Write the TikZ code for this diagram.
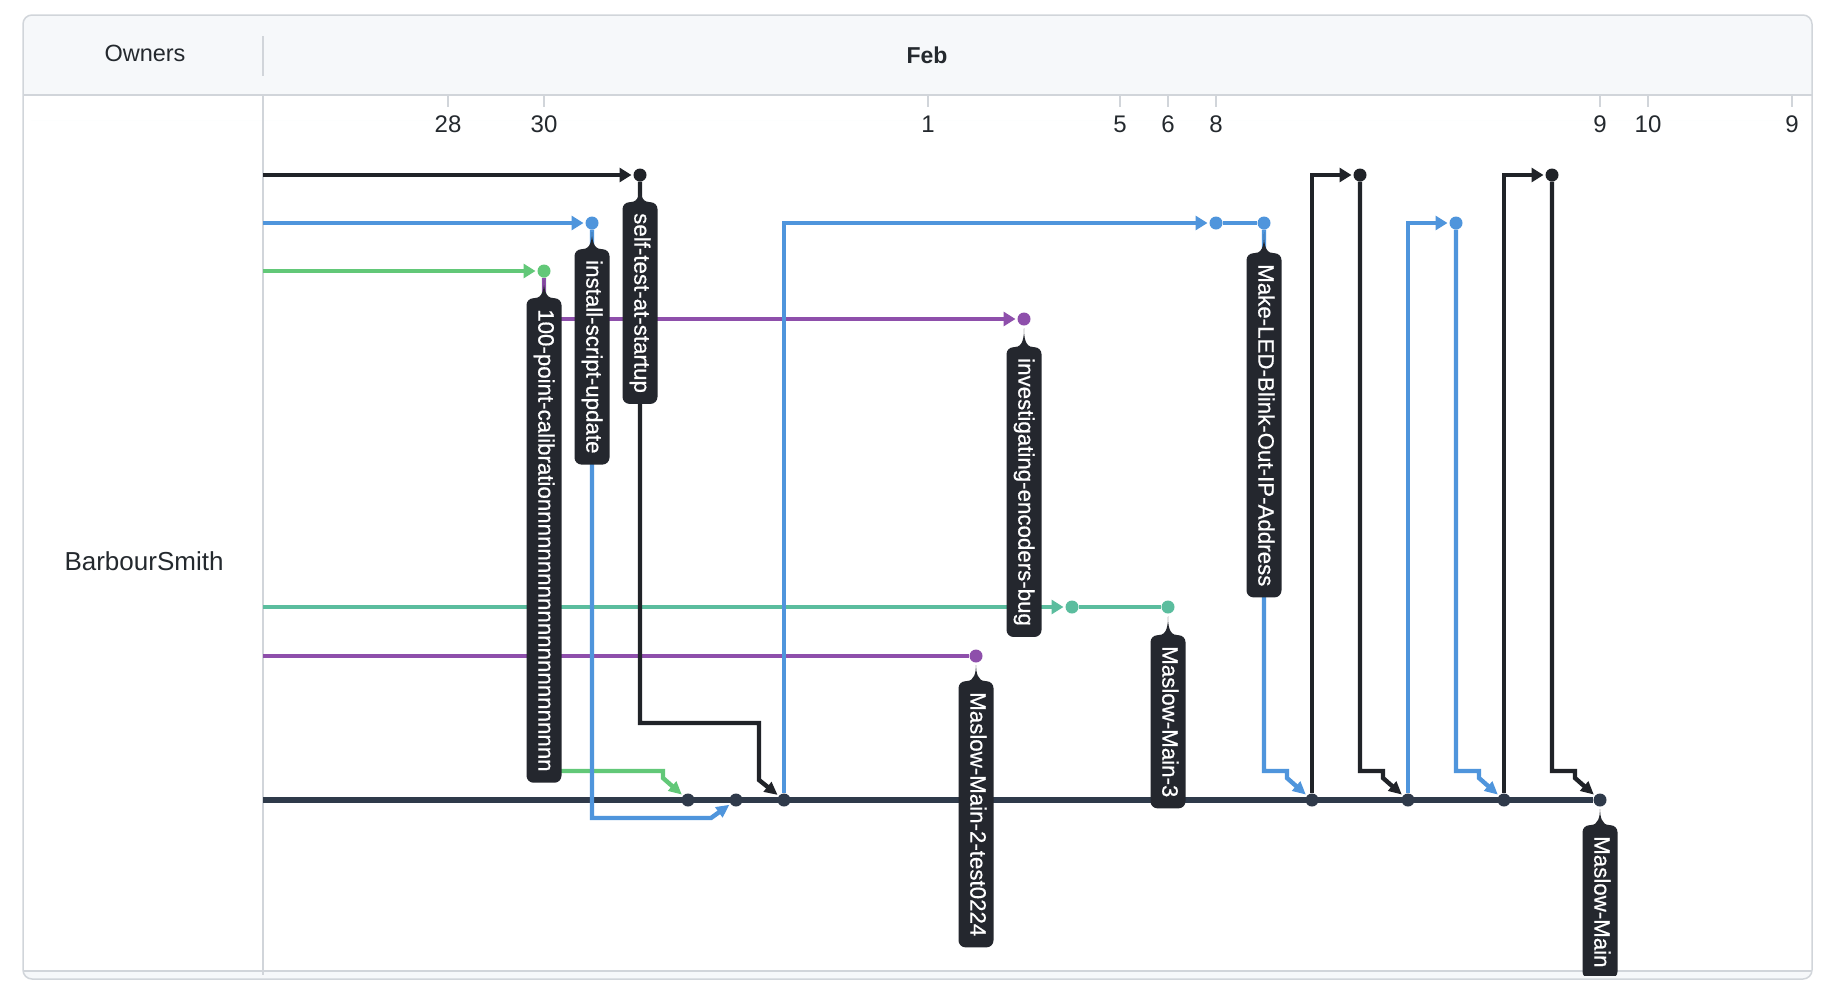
\documentclass[tikz,border=0pt]{standalone}
\usepackage{fontspec}
\setmainfont{Liberation Sans}
\newfontfamily\tagfamily{Liberation Sans}[FakeBold=0.6]
\usetikzlibrary{arrows.meta}

\definecolor{gridline}{HTML}{D1D5DA}
\definecolor{headbg}{HTML}{F6F8FA}
\definecolor{inkdark}{HTML}{24292E}
\definecolor{mainln}{HTML}{2F3A4A}
\definecolor{brblack}{HTML}{202328}
\definecolor{brblue}{HTML}{4F95DC}
\definecolor{brgreen}{HTML}{62C878}
\definecolor{brteal}{HTML}{5BBD9E}
\definecolor{brpurple}{HTML}{8E4FAB}
\definecolor{tagbg}{HTML}{24272E}

\newcommand{\lblfont}{\tagfamily\fontsize{22.3}{26}\selectfont}
\newcommand{\tagpin}[2]{\fill[tagbg] ([xshift=-9pt]#1.west) to[out=0,in=-90] ([yshift=-9pt]#2.center) to[out=-90,in=180] ([xshift=9pt]#1.west) -- cycle;}

\tikzset{
  commit/.style={circle, fill=#1, inner sep=0pt, minimum size=13pt},
  branchline/.style={draw=#1, line width=4.4pt},
  headarrow/.style={-{Triangle[length=12pt,width=14pt]}, shorten >=1.8pt},
  mergearrow/.style={-{Triangle[length=13pt,width=12pt]}, shorten >=1.5pt},
  reftag/.style={rotate=-90, anchor=west, fill=tagbg, text=white, rounded corners=7pt,
    minimum height=35pt, inner xsep=11pt, inner ysep=0pt, text height=16pt, text depth=4.7pt, font=\lblfont},
  ticklabel/.style={text=inkdark, font=\fontsize{24}{28}\selectfont},
}

\begin{document}
\begin{tikzpicture}[x=1pt,y=-1pt]
			\useasboundingbox (0,0) rectangle (1824,986);
			% frame and header
			\fill[white, rounded corners=9pt] (23,15) rectangle (1812,979);
			\fill[headbg, rounded corners=9pt] (23,15) rectangle (1812,120);
			\fill[white] (23,95) rectangle (1812,120);
			\fill[headbg, rounded corners=9pt] (23,930) rectangle (1812,979);
			\fill[white] (23,930) rectangle (1812,971);
			\draw[gridline, line width=1.5pt] (23,95) -- (1812,95);
			\draw[gridline, line width=1.5pt] (23,971) -- (1812,971);
			\draw[gridline, line width=1.5pt] (263,36) -- (263,76);
			\draw[gridline, line width=1.5pt] (263,95) -- (263,975);
			\draw[gridline, line width=1.5pt, rounded corners=9pt] (23,15) rectangle (1812,979);
			\node[text=inkdark, font=\fontsize{23.5}{28}\selectfont] (owners) at (145,53) {Owners};
			\node[text=inkdark, font=\fontsize{23}{28}\selectfont\bfseries] (month) at (927,55) {Feb};
			\node[text=inkdark, font=\fontsize{26}{30}\selectfont] (owner) at (144,561) {BarbourSmith};
			% day ticks
			\draw[gridline, line width=1.5pt] (448,96) -- (448,107);
			\draw[gridline, line width=1.5pt] (544,96) -- (544,107);
			\draw[gridline, line width=1.5pt] (928,96) -- (928,107);
			\draw[gridline, line width=1.5pt] (1120,96) -- (1120,107);
			\draw[gridline, line width=1.5pt] (1168,96) -- (1168,107);
			\draw[gridline, line width=1.5pt] (1216,96) -- (1216,107);
			\draw[gridline, line width=1.5pt] (1600,96) -- (1600,107);
			\draw[gridline, line width=1.5pt] (1648,96) -- (1648,107);
			\draw[gridline, line width=1.5pt] (1792,96) -- (1792,107);
			\node[ticklabel] (d28) at (448,124) {28};
			\node[ticklabel] (d30) at (544,124) {30};
			\node[ticklabel] (d1) at (928,124) {1};
			\node[ticklabel] (d5) at (1120,124) {5};
			\node[ticklabel] (d6) at (1168,124) {6};
			\node[ticklabel] (d8) at (1216,124) {8};
			\node[ticklabel] (d9) at (1600,124) {9};
			\node[ticklabel] (d10) at (1648,124) {10};
			\node[ticklabel] (d9b) at (1792,124) {9};
			% commits
			\coordinate (m0) at (263,800);
			\node[commit=mainln] (m1) at (688,800) {};
			\node[commit=mainln] (m2) at (736,800) {};
			\node[commit=mainln] (m3) at (784,800) {};
			\node[commit=mainln] (m4) at (1312,800) {};
			\node[commit=mainln] (m5) at (1408,800) {};
			\node[commit=mainln] (m6) at (1504,800) {};
			\node[commit=mainln] (m7) at (1600,800) {};
			\coordinate (k0) at (263,175);
			\node[commit=brblack] (st) at (640,175) {};
			\node[commit=brblack] (k1) at (1360,175) {};
			\node[commit=brblack] (k2) at (1552,175) {};
			\coordinate (b0) at (263,223);
			\node[commit=brblue] (is) at (592,223) {};
			\node[commit=brblue] (led1) at (1216,223) {};
			\node[commit=brblue] (led) at (1264,223) {};
			\node[commit=brblue] (b3) at (1456,223) {};
			\coordinate (g0) at (263,271);
			\node[commit=brgreen] (cal) at (544,271) {};
			\node[commit=brpurple] (enc) at (1024,319) {};
			\coordinate (t0) at (263,607);
			\node[commit=brteal] (t1) at (1072,607) {};
			\node[commit=brteal] (mm3) at (1168,607) {};
			\coordinate (p0) at (263,656);
			\node[commit=brpurple] (mm2) at (976,656) {};
			% bends
			\coordinate (cal-b) at (663,771);
			\coordinate (cal-c) at (663,778);
			\coordinate (is-b) at (711,818);
			\coordinate (st-b) at (759,723);
			\coordinate (st-c) at (759,780);
			\coordinate (led-b) at (1287,771);
			\coordinate (led-c) at (1287,778);
			\coordinate (k1-b) at (1383,771);
			\coordinate (k1-c) at (1383,778);
			\coordinate (b3-b) at (1479,771);
			\coordinate (b3-c) at (1479,778);
			\coordinate (k2-b) at (1575,771);
			\coordinate (k2-c) at (1575,778);
			% main line
			\draw[mainln, line width=5.5pt] (m0) -- (m7);
			% rows
			\draw[branchline=brblack, headarrow] (k0) -- (st);
			\draw[branchline=brblue, headarrow] (b0) -- (is);
			\draw[branchline=brgreen, headarrow] (g0) -- (cal);
			\draw[branchline=brteal, headarrow] (t0) -- (t1);
			\draw[branchline=brteal] (t1) -- (mm3);
			\draw[branchline=brpurple] (p0) -- (mm2);
			\draw[branchline=brgreen, mergearrow] (cal) |- (cal-b) -- (cal-c) -- (m1);
			\draw[branchline=brpurple, headarrow] (cal) |- (enc);
			\draw[branchline=brblue, mergearrow] (is) |- (is-b) -- (m2);
			\draw[branchline=brblack, mergearrow] (st) |- (st-b) -- (st-c) -- (m3);
			\draw[branchline=brblue, headarrow] (m3) |- (led1);
			\draw[branchline=brblue] (led1) -- (led);
			\draw[branchline=brblue, mergearrow] (led) |- (led-b) -- (led-c) -- (m4);
			\draw[branchline=brblack, headarrow] (m4) |- (k1);
			\draw[branchline=brblack, mergearrow] (k1) |- (k1-b) -- (k1-c) -- (m5);
			\draw[branchline=brblue, headarrow] (m5) |- (b3);
			\draw[branchline=brblue, mergearrow] (b3) |- (b3-b) -- (b3-c) -- (m6);
			\draw[branchline=brblack, headarrow] (m6) |- (k2);
			\draw[branchline=brblack, mergearrow] (k2) |- (k2-b) -- (k2-c) -- (m7);
			% branch names
			\node[reftag] (tcal) at ([yshift=-27pt]cal.center) {100-point-calibrationnnnnnnnnnnnnnnnnnnnnn\hspace{12pt}};
			\tagpin{tcal}{cal}
			\node[reftag] (tis) at ([yshift=-26pt]is.center) {install-script-update\hspace{12pt}};
			\tagpin{tis}{is}
			\node[reftag] (tst) at ([yshift=-27pt]st.center) {self-test-at-startup\hspace{12pt}};
			\tagpin{tst}{st}
			\node[reftag] (tenc) at ([yshift=-28pt]enc.center) {investigating-encoders-bug\hspace{12pt}};
			\tagpin{tenc}{enc}
			\node[reftag] (tled) at ([yshift=-30pt]led.center) {Make-LED-Blink-Out-IP-Address\hspace{12pt}};
			\tagpin{tled}{led}
			\node[reftag] (tmm2) at ([yshift=-25pt]mm2.center) {Maslow-Main-2-test0224\hspace{12pt}};
			\tagpin{tmm2}{mm2}
			\node[reftag] (tmm3) at ([yshift=-28pt]mm3.center) {Maslow-Main-3\hspace{12pt}};
			\tagpin{tmm3}{mm3}
			\begin{scope}
				\clip (0,0) rectangle (1824,975);
				\node[reftag] (tmain) at ([yshift=-25pt]m7.center) {Maslow-Main\hspace{12pt}};
				\tagpin{tmain}{m7}
			\end{scope}
		\end{tikzpicture}
\end{document}
